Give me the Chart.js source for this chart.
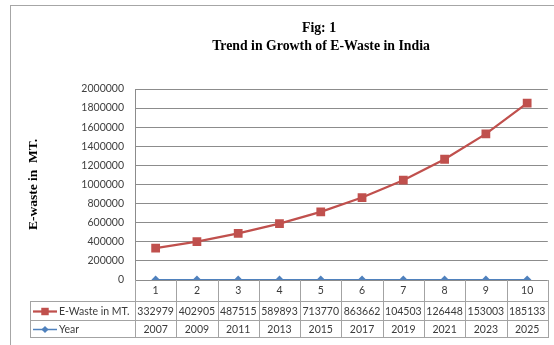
<!DOCTYPE html>
<html>
<head>
<meta charset="utf-8">
<script src="https://cdn.jsdelivr.net/npm/chart.js@4.4.1/dist/chart.umd.min.js"></script>
<style>
  html, body { margin: 0; padding: 0; background: #ffffff; }
  #wrap { width: 554px; height: 345px; position: relative; }
</style>
</head>
<body>
<div id="wrap"><canvas id="c" width="554" height="345"></canvas></div>
<script>
// Category numbers shown in the table header row
const categories = ['1', '2', '3', '4', '5', '6', '7', '8', '9', '10'];
// E-waste generation in metric tonnes
const eWaste = [332979, 402905, 487515, 589893, 713770, 863662, 1045030, 1264480, 1530030, 1851330];
// Year of each observation (plotted on the same axis, so it sits near zero)
const years = [2007, 2009, 2011, 2013, 2015, 2017, 2019, 2021, 2023, 2025];
// Value-axis ticks
const yTicks = [0, 200000, 400000, 600000, 800000, 1000000, 1200000, 1400000, 1600000, 1800000, 2000000];
const titleLines = ['Fig: 1', 'Trend in Growth of E-Waste in India'];
const yTitle = 'E-waste in  MT.';
const seriesNames = ['E-Waste in MT.', 'Year'];

const RED = '#C0504D';
const BLUE = '#4F81BD';
const TABLE_LINE = '#a3a3a3';
const TEXT = '#3a3a3a';
const TABLE_FONT = '10.5px Lato';

// Outer frame and white background
const framePlugin = {
  id: 'frame',
  beforeDraw(chart) {
    const ctx = chart.ctx;
    ctx.save();
    ctx.fillStyle = '#ffffff';
    ctx.fillRect(0, 0, chart.width, chart.height);
    ctx.strokeStyle = '#a6a6a6';
    ctx.lineWidth = 1;
    ctx.strokeRect(10.5, 5.5, 700, 500);
    ctx.restore();
  }
};

// Two-line heading centred over the plot
const headingPlugin = {
  id: 'heading',
  afterDraw(chart) {
    const ctx = chart.ctx;
    ctx.save();
    ctx.fillStyle = '#000000';
    ctx.font = 'bold 13.8px "Liberation Serif"';
    ctx.textAlign = 'center';
    ctx.textBaseline = 'middle';
    ctx.fillText(titleLines[0], 319, 28);
    ctx.fillText(titleLines[1], 321, 46);
    ctx.restore();
  }
};

// Data table beneath the plot: category row, one row per series with legend keys
const tablePlugin = {
  id: 'dataTable',
  afterDraw(chart) {
    const ctx = chart.ctx;
    const xs = chart.scales.x;
    const area = chart.chartArea;
    const n = categories.length;
    const colW = (area.right - area.left) / n;
    const keyLeft = 30.5;
    const top = area.bottom;          // bottom of the plot
    const rowTops = [301, 320, 337];  // series rows
    ctx.save();

    // grid lines of the table
    ctx.strokeStyle = TABLE_LINE;
    ctx.lineWidth = 1;
    ctx.beginPath();
    for (const y of rowTops) {
      ctx.moveTo(keyLeft, y + 0.5);
      ctx.lineTo(area.right + 0.5, y + 0.5);
    }
    ctx.moveTo(keyLeft, rowTops[0]);
    ctx.lineTo(keyLeft, rowTops[2] + 1);
    for (let i = 0; i <= n; i++) {
      const x = Math.round(area.left + i * colW) + 0.5;
      ctx.moveTo(x, top);
      ctx.lineTo(x, rowTops[2] + 1);
    }
    ctx.stroke();

    ctx.font = TABLE_FONT;
    ctx.fillStyle = TEXT;
    ctx.textBaseline = 'middle';

    // category header
    ctx.textAlign = 'center';
    categories.forEach((c, i) => {
      ctx.fillText(c, xs.getPixelForValue(i), 291);
    });

    // series rows
    const rows = [
      { data: eWaste, ds: chart.data.datasets[0] },
      { data: years, ds: chart.data.datasets[1] }
    ];
    rows.forEach((row, r) => {
      const yMid = (rowTops[r] + rowTops[r + 1]) / 2 + 1;
      // legend key
      ctx.strokeStyle = row.ds.borderColor;
      ctx.lineWidth = row.ds.borderWidth;
      ctx.beginPath();
      ctx.moveTo(33, yMid);
      ctx.lineTo(57, yMid);
      ctx.stroke();
      ctx.fillStyle = row.ds.pointBackgroundColor;
      Chart.helpers.drawPoint(ctx, {
        pointStyle: row.ds.pointStyle,
        radius: row.ds.pointRadius * 0.85,
        rotation: 0,
        borderWidth: 0
      }, 45, yMid);
      ctx.fillStyle = TEXT;
      ctx.textAlign = 'left';
      ctx.fillText(row.ds.label, 59, yMid);

      // values; a number too wide for its cell shows only the digits that fit
      ctx.textAlign = 'center';
      row.data.forEach((v, i) => {
        const cx = xs.getPixelForValue(i);
        let txt = String(v);
        while (txt.length > 1 && ctx.measureText(txt).width > colW - 2) {
          txt = txt.slice(0, -1);
        }
        ctx.fillText(txt, cx, yMid);
      });
    });
    ctx.restore();
  }
};

new Chart(document.getElementById('c'), {
  type: 'line',
  data: {
    labels: categories,
    datasets: [
      {
        label: seriesNames[0],
        data: eWaste,
        borderColor: RED,
        backgroundColor: RED,
        pointBackgroundColor: RED,
        pointBorderColor: RED,
        borderWidth: 2.25,
        pointStyle: 'rect',
        pointRadius: 6.2,
        pointBorderWidth: 0,
        tension: 0
      },
      {
        label: seriesNames[1],
        data: years,
        borderColor: BLUE,
        backgroundColor: BLUE,
        pointBackgroundColor: BLUE,
        pointBorderColor: BLUE,
        borderWidth: 1.5,
        pointStyle: 'rectRot',
        pointRadius: 4.2,
        pointBorderWidth: 0,
        tension: 0
      }
    ]
  },
  options: {
    responsive: false,
    animation: false,
    devicePixelRatio: 1,
    layout: { padding: { left: 0, top: 89, right: 3, bottom: 65 } },
    plugins: {
      legend: { display: false },
      title: { display: false },
      tooltip: { enabled: false }
    },
    scales: {
      x: {
        type: 'category',
        offset: true,
        display: false
      },
      y: {
        min: 0,
        max: 2000000,
        afterFit(scale) { scale.width = 135; },
        afterBuildTicks(scale) { scale.ticks = yTicks.map(v => ({ value: v })); },
        ticks: {
          font: { family: 'Lato', size: 10.5 },
          color: '#404040',
          padding: 11,
          callback: v => String(v)
        },
        grid: { color: '#8c8c8c', lineWidth: 1, drawTicks: false },
        border: { display: true, color: '#8c8c8c', width: 1 },
        title: {
          display: true,
          text: yTitle,
          color: '#000000',
          font: { family: 'Liberation Serif', size: 13.5, weight: 'bold' },
          padding: { top: 25, bottom: 0 }
        }
      }
    }
  },
  plugins: [framePlugin, headingPlugin, tablePlugin]
});
</script>
</body>
</html>
